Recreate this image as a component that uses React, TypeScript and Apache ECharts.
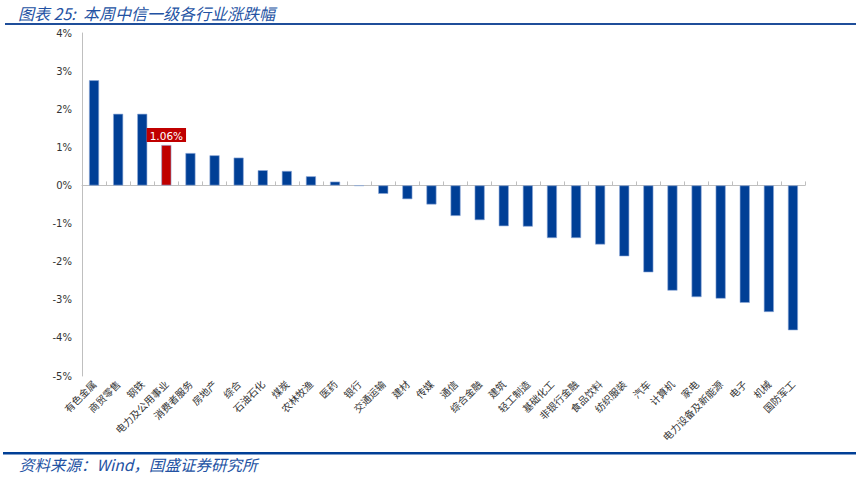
import React, { useEffect, useRef } from "react";
import * as echarts from "echarts";

const categories = [
  "有色金属", "商贸零售", "钢铁", "电力及公用事业", "消费者服务", "房地产", "综合", "石油石化",
  "煤炭", "农林牧渔", "医药", "银行", "交通运输", "建材", "传媒", "通信", "综合金融", "建筑",
  "轻工制造", "基础化工", "非银行金融", "食品饮料", "纺织服装", "汽车", "计算机", "家电",
  "电力设备及新能源", "电子", "机械", "国防军工",
];

const values = [
  2.76, 1.88, 1.88, 1.06, 0.85, 0.79, 0.73, 0.40, 0.38, 0.24, 0.10, -0.01, -0.22, -0.36, -0.50,
  -0.80, -0.91, -1.07, -1.08, -1.38, -1.38, -1.55, -1.86, -2.28, -2.76, -2.93, -2.97, -3.08,
  -3.32, -3.80,
];

const highlightIndex = 3;
const yTicks = { min: -5, max: 4, interval: 1 };

const titleText = "图表 25:  本周中信一级各行业涨跌幅";
const sourceText = "资料来源：Wind，国盛证券研究所";

export default function App() {
  const ref = useRef<HTMLDivElement>(null);
  useEffect(() => {
    if (!ref.current) return;
    const chart = echarts.init(ref.current, null, { renderer: "svg" });
    const blue = "#003F96";
    const red = "#C00000";
    const data = values.map((v, i) =>
      i === highlightIndex
        ? {
            value: v,
            itemStyle: { color: red },
            label: {
              show: true,
              position: "top",
              distance: 3,
              formatter: (p: any) => p.value.toFixed(2) + "%",
              color: "#fff",
              backgroundColor: red,
              padding: [2, 3, 1, 3],
              fontSize: 10.5,
              fontFamily: "DejaVu Sans",
            },
          }
        : { value: v }
    );
    chart.setOption({
      animation: false,
      grid: { left: 82, right: 56, top: 33, bottom: 112, containLabel: false },
      xAxis: [
        {
          type: "category",
          data: categories,
          position: "bottom",
          axisLine: { show: false, onZero: false },
          axisTick: { show: false },
          axisLabel: {
            interval: 0,
            rotate: 45,
            margin: 6,
            fontSize: 10,
            color: "#333",
            fontFamily: "Noto Sans CJK SC",
          },
        },
        {
          type: "category",
          data: categories,
          position: "top",
          axisLine: { show: true, onZero: true, lineStyle: { color: "#BFBFBF", width: 1 } },
          axisTick: { show: true, interval: 0, length: 4, lineStyle: { color: "#BFBFBF" } },
          axisLabel: { show: false, interval: 0 },
        },
      ],
      yAxis: {
        type: "value",
        min: yTicks.min,
        max: yTicks.max,
        interval: yTicks.interval,
        axisLine: { show: true, lineStyle: { color: "#BFBFBF" } },
        axisTick: { show: false },
        splitLine: { show: false },
        axisLabel: {
          formatter: "{value}%",
          fontSize: 10,
          color: "#333",
          margin: 10,
          fontFamily: "DejaVu Sans",
        },
      },
      series: [
        {
          type: "bar",
          xAxisIndex: 0,
          data,
          barWidth: 10,
          itemStyle: { color: blue, borderColor: "#8FAAD8", borderWidth: 0.6 },
        },
      ],
      graphic: [
        {
          type: "text",
          left: 18,
          top: 5,
          style: {
            text: titleText,
            fill: "#2352A3",
            font: "italic 16px 'Noto Sans CJK SC'",
          },
        },
        {
          type: "rect",
          shape: { x: 5, y: 23, width: 851, height: 2 },
          style: { fill: "#1F4E9A" },
        },
        {
          type: "rect",
          shape: { x: 3, y: 452, width: 853, height: 2.5 },
          style: { fill: "#003F96" },
        },
        {
          type: "text",
          left: 19,
          top: 456,
          style: {
            text: sourceText,
            fill: "#2352A3",
            font: "italic 15.5px 'Noto Sans CJK SC'",
          },
        },
      ],
    });
    return () => chart.dispose();
  }, []);
  return <div ref={ref} style={{ width: 861, height: 488, position: "absolute", left: 0, top: 0 }} />;
}
